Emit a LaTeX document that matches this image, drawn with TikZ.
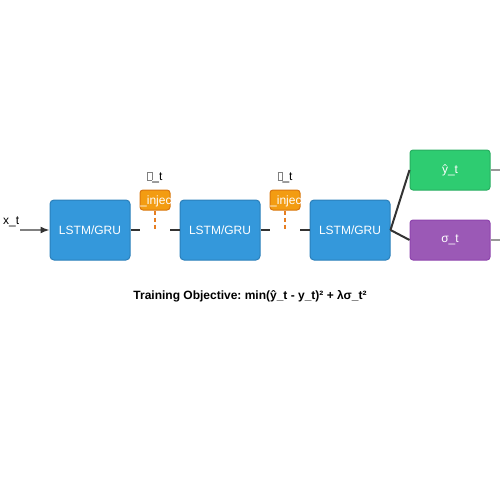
\documentclass[tikz,border=0pt]{standalone}
\usepackage{fontspec}
\setmainfont{Liberation Sans}
\usetikzlibrary{arrows.meta}
\frenchspacing

\definecolor{cellblue}{HTML}{3498DB}
\definecolor{cellborder}{HTML}{2A7FBA}
\definecolor{injfill}{HTML}{F39C12}
\definecolor{injborder}{HTML}{D9770F}
\definecolor{injdash}{HTML}{E67E22}
\definecolor{meangreen}{HTML}{2ECC71}
\definecolor{meanborder}{HTML}{27AE60}
\definecolor{varpurple}{HTML}{9B59B6}
\definecolor{varborder}{HTML}{8E44AD}
\definecolor{linkgray}{HTML}{333333}

\newcommand{\tofuglyph}{{\fboxsep=0pt\fboxrule=0.5pt\color{gray}\fbox{\rule{0pt}{8pt}\hspace{4pt}}}}

\tikzset{
  cell/.style={draw=cellborder, fill=cellblue, rounded corners=4pt, line width=1pt,
    minimum width=80pt, minimum height=60pt, text=white, font=\fontsize{12}{14}\selectfont},
  injbox/.style={draw=injborder, fill=injfill, rounded corners=3pt, line width=1pt,
    minimum width=30pt, minimum height=20pt},
  outbox/.style={rounded corners=3pt, line width=1pt, minimum width=80pt,
    minimum height=40pt, text=white, font=\fontsize{12}{14}\selectfont},
  link/.style={draw=linkgray, line width=2pt},
  lbl/.style={font=\fontsize{12}{14}\selectfont, inner sep=0pt}
}

\begin{document}
\begin{tikzpicture}[x=1pt, y=-1pt]
    \useasboundingbox (0,0) rectangle (500,500);

    % cel·les recurrents
    \node[cell] (lstmA) at (90,230) {LSTM/GRU};
    \node[cell] (lstmB) at (220,230) {LSTM/GRU};
    \node[cell] (lstmC) at (350,230) {LSTM/GRU};

    % entrada
    \node[lbl, anchor=south west] (xin) at (3,227) {x\_t};
    \coordinate (xstart) at (20,230);
    \draw[draw=gray, line width=1.5pt, -{Latex[length=9pt, width=7pt, color=linkgray]}] (xstart) -- (lstmA.west);

    % injeccio de soroll
    \foreach \nm/\px in {injA/155, injB/285} {
        \node[injbox] (\nm) at (\px,200) {};
        \begin{scope}
            \clip[rounded corners=3pt] (\nm.south west) rectangle (\nm.north east);
            \node[lbl, text=white, anchor=west] at ([xshift=0.5pt,yshift=-1pt]\nm.west) {\_inject};
        \end{scope}
        \node[lbl] (\nm lab) at (\px,177) {\tofuglyph\_t};
        \coordinate (\nm tip) at (\px,230);
        \draw[draw=injdash, line width=1.5pt, dash pattern=on 4pt off 3pt] (\nm.south) -- (\nm tip);
    }

    % connexions entre cel·les
    \coordinate (gapAin) at (140,230);
    \coordinate (gapAout) at (170,230);
    \coordinate (gapBin) at (270,230);
    \coordinate (gapBout) at (300,230);
    \draw[link] (lstmA.east) -- (gapAin);
    \draw[link] (gapAout) -- (lstmB.west);
    \draw[link] (lstmB.east) -- (gapBin);
    \draw[link] (gapBout) -- (lstmC.west);

    % sortides
    \node[outbox, draw=meanborder, fill=meangreen] (yhat) at (450,170) {ŷ\_t};
    \node[outbox, draw=varborder, fill=varpurple] (sigma) at (450,240) {σ\_t};
    \draw[link] (lstmC.east) -- (yhat.west);
    \draw[link] (lstmC.east) -- (sigma.west);
    \coordinate (yend) at (500,170);
    \coordinate (send) at (500,240);
    \draw[draw=gray!80, line width=1.5pt] (yhat.east) -- (yend);
    \draw[draw=gray!80, line width=1.5pt] (sigma.east) -- (send);

    % objectiu
    \node[lbl, font=\fontsize{12}{14}\selectfont\bfseries] (title) at (250,296) {Training Objective: min(ŷ\_t - y\_t)² + λσ\_t²};
\end{tikzpicture}
\end{document}
